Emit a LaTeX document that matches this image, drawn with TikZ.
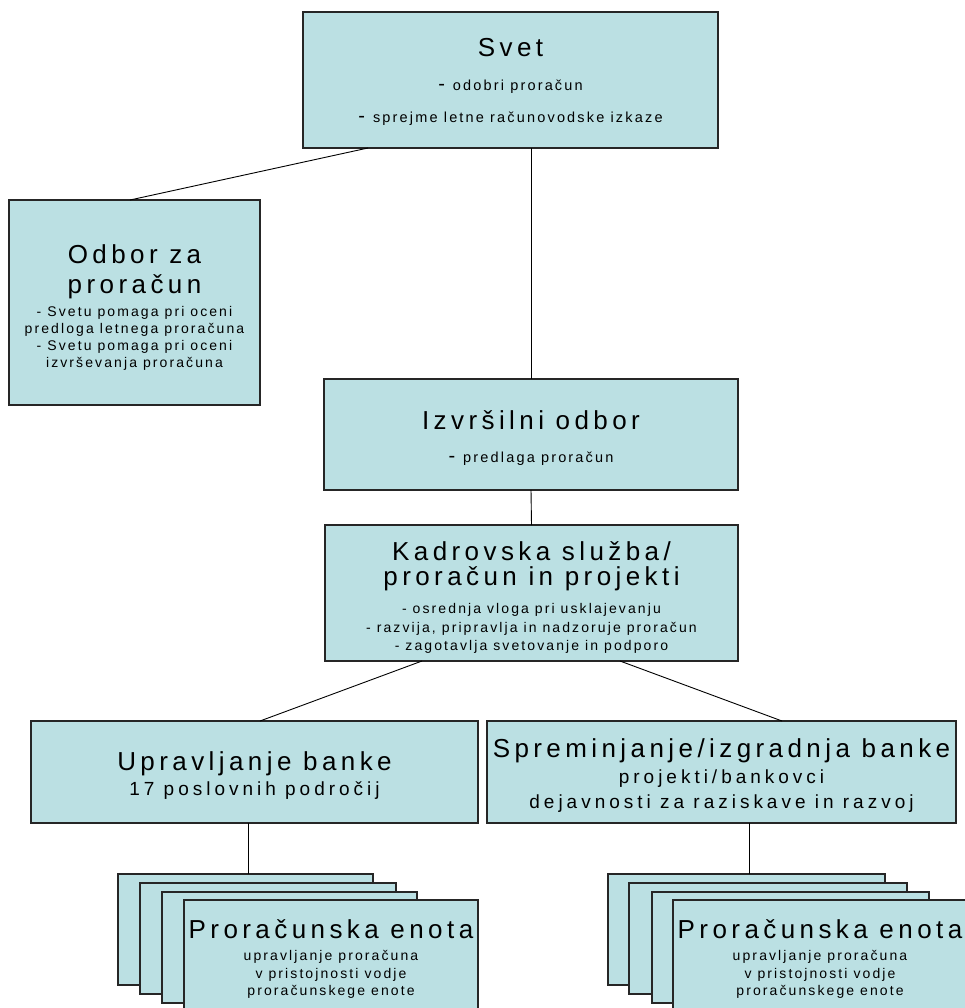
\documentclass[tikz,border=0pt]{standalone}
\usepackage{fontspec}
\setmainfont{Liberation Sans}
\newfontfamily\orgtitlefam{Liberation Sans}[LetterSpace=17]
\newfontfamily\orgmidfam{Liberation Sans}[LetterSpace=21]
\newfontfamily\orgtextfam{Liberation Sans}[LetterSpace=15]
\newcommand\orgtitle{\orgtitlefam\fontsize{26}{26}\selectfont}
\newcommand\orgmid{\orgmidfam\fontsize{19}{19}\selectfont}
\newcommand\orgsub{\orgtextfam\fontsize{14.5}{14.5}\selectfont}
\newcommand\orgsmall{\orgtextfam\fontsize{14}{14}\selectfont}
\newcommand\orgdash{{\fontsize{20}{20}\selectfont -}\hspace{8pt}}
% invisible struts: height of first line, depth of last line
\newcommand\orgtop[1]{\rule{0pt}{#1pt}}
\newcommand\orgbot[1]{\rule[-#1pt]{0pt}{#1pt}}
\definecolor{orgfill}{RGB}{187,224,227}
\tikzset{
  orgbox/.style={draw=black!85, line width=1.2pt, fill=orgfill, anchor=north west,
    inner sep=0pt, outer sep=0pt, align=center,
    font={\orgsmall\baselineskip=0pt\lineskiplimit=-1000pt\parskip=0pt}},
  orgline/.style={draw=black, line width=0.9pt}
}

\begin{document}
\begin{tikzpicture}[x=1pt,y=-1pt]
			%%%%% START %%%%%
			\useasboundingbox (0,0) rectangle (965,1008);
			\clip (0,0) rectangle (965,1008);
			
			\node[orgbox, minimum width=415pt, minimum height=136pt] (svet) at (303,12)
			{\orgtop{26}{\orgtitle Svet}\\[34pt]{\orgsub\orgdash odobri proračun}\\[32pt]{\orgsub\orgdash sprejme letne računovodske izkaze}\orgbot{6}};
			
			\node[orgbox, minimum width=251pt, minimum height=205pt] (odbor) at (9,200)
			{\orgtop{31}{\orgtitle Odbor za}\\[30pt]{\orgtitle proračun}\\[23pt]- Svetu pomaga pri oceni\\[17pt]predloga letnega proračuna\\[17pt]- Svetu pomaga pri oceni\\[17pt]izvrševanja proračuna\orgbot{6}};
			
			\node[orgbox, minimum width=414pt, minimum height=111pt] (izvrs) at (324,379)
			{\orgtop{28}{\orgtitle Izvršilni odbor}\\[33pt]{\orgsub\orgdash predlaga proračun}\orgbot{6}};
			
			\node[orgbox, minimum width=413pt, minimum height=136pt] (kadr) at (325,525)
			{\orgtop{30}{\orgtitle Kadrovska služba/}\\[25pt]{\orgtitle proračun in projekti}\\[28pt]- osrednja vloga pri usklajevanju\\[19pt]- razvija, pripravlja in nadzoruje proračun\\[18pt]- zagotavlja svetovanje in podporo\orgbot{6}};
			
			\node[orgbox, minimum width=447pt, minimum height=102pt] (uprav) at (31,721)
			{\orgtop{27}{\orgtitle Upravljanje banke}\\[25pt]{\orgmid 17 poslovnih področij}\orgbot{6}};
			
			\node[orgbox, minimum width=469pt, minimum height=102pt] (sprem) at (487,721)
			{\orgtop{27}{\orgtitle Spreminjanje/izgradnja banke}\\[26pt]{\orgmid projekti/bankovci}\\[25pt]{\orgmid dejavnosti za raziskave in razvoj}\orgbot{6}};
			
			% left stack
			\node[orgbox, minimum width=255pt, minimum height=111pt] (ua1) at (118,874) {};
			\node[orgbox, minimum width=256pt, minimum height=111pt] (ua2) at (140,883) {};
			\node[orgbox, minimum width=255pt, minimum height=111pt] (ua3) at (162,892) {};
			\node[orgbox, minimum width=294pt, minimum height=111pt] (ua4) at (184,900)
			{\orgtop{28}{\orgtitle Proračunska enota}\\[22pt]upravljanje proračuna\\[18pt]v pristojnosti vodje\\[17pt]proračunskege enote\orgbot{6}};
			
			% right stack
			\node[orgbox, minimum width=277pt, minimum height=111pt] (sa1) at (608,874) {};
			\node[orgbox, minimum width=278pt, minimum height=111pt] (sa2) at (629,883) {};
			\node[orgbox, minimum width=277pt, minimum height=111pt] (sa3) at (652,892) {};
			\node[orgbox, minimum width=294pt, minimum height=111pt] (sa4) at (673,900)
			{\orgtop{28}{\orgtitle Proračunska enota}\\[22pt]upravljanje proračuna\\[18pt]v pristojnosti vodje\\[17pt]proračunskege enote\orgbot{6}};
			
			\draw[orgline] ([xshift=65pt]svet.south west) -- ([xshift=121pt]odbor.north west);
			\draw[orgline] (svet.south -| izvrs.north) -- (izvrs.north);
			\draw[orgline] (izvrs.south) -- (kadr.north);
			\draw[orgline] ([xshift=97pt]kadr.south west) -- ([xshift=229pt]uprav.north west);
			\draw[orgline] ([xshift=295pt]kadr.south west) -- ([xshift=295pt]sprem.north west);
			\draw[orgline] ([xshift=130pt]ua1.north west |- uprav.south) -- ([xshift=130pt]ua1.north west);
			\draw[orgline] ([xshift=141pt]sa1.north west |- sprem.south) -- ([xshift=141pt]sa1.north west);
			
			%%%%% END %%%%%
\end{tikzpicture}
\end{document}
